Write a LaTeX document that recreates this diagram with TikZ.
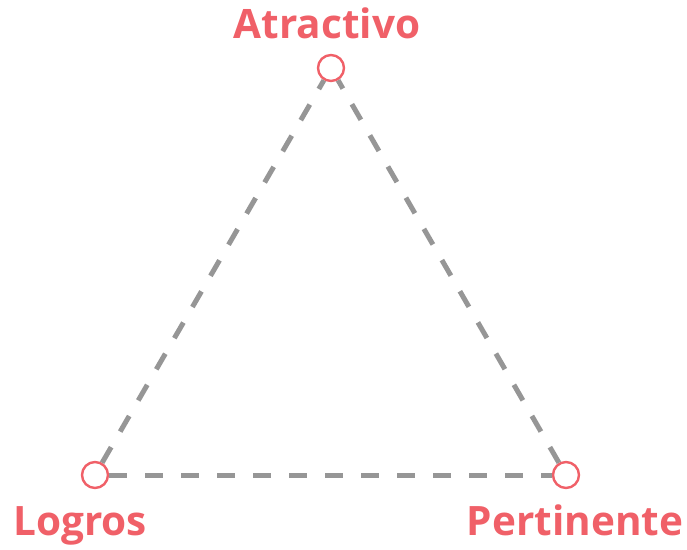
\documentclass[tikz,border=0pt]{standalone}
\usepackage{fontspec}
\setmainfont{Open Sans}
\usetikzlibrary{positioning}
\definecolor{rosa}{RGB}{240,96,104}
\definecolor{gris}{RGB}{150,150,150}
\tikzset{
  vertice/.style={circle,draw=rosa,line width=2.4pt,fill=white,minimum size=26pt,inner sep=0pt},
  etiqueta/.style={text=rosa,font=\fontsize{40.5}{40.5}\selectfont\bfseries,inner sep=0pt,anchor=base},
  lado/.style={gris,line width=5pt,dash pattern=on 18pt off 18pt}
}
\begin{document}
\begin{tikzpicture}[x=1pt,y=-1pt]
\useasboundingbox (0,0) rectangle (687,549);
% vertices
\node[vertice] (atr) at (331,68) {};
\node[vertice] (log) at (95,475) {};
\node[vertice] (per) at (566,475) {};
% lados
\draw[lado] (log) -- (per);
\draw[lado] (log) -- (atr);
\draw[lado] (per) -- (atr);
% etiquetas
\node[etiqueta] (tatr) at (327,38) {Atractivo};
\node[etiqueta] (tlog) at (80,535) {Logros};
\node[etiqueta] (tper) at (575,535) {Pertinente};
\end{tikzpicture}
\end{document}
